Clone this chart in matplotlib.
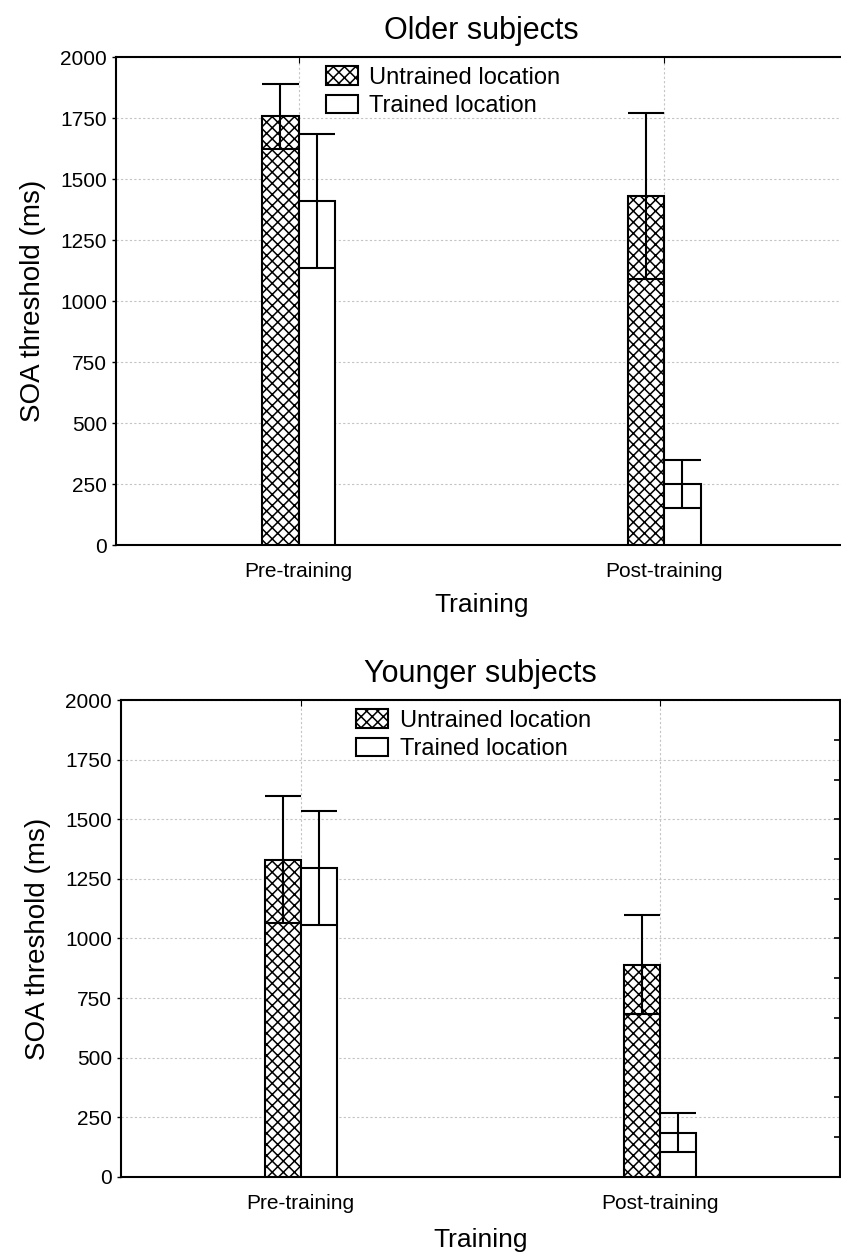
import matplotlib
matplotlib.use("Agg")
import matplotlib.pyplot as plt
import numpy as np

plt.rcParams['font.family'] = ['Liberation Sans', 'DejaVu Sans']
plt.rcParams['hatch.linewidth'] = 1.1

# Datos
categorias = ["Pre-training", "Post-training"]
series = ["Untrained location", "Trained location"]

mayores_media = {"Untrained location": [1758, 1430], "Trained location": [1410, 250]}
mayores_err = {"Untrained location": [133, 340], "Trained location": [275, 100]}

jovenes_media = {"Untrained location": [1330, 890], "Trained location": [1295, 185]}
jovenes_err = {"Untrained location": [267, 208], "Trained location": [240, 82]}

yticks = [0, 250, 500, 750, 1000, 1250, 1500, 1750, 2000]

ancho = 0.1
desplaz = {"Untrained location": -0.05, "Trained location": 0.05}
tramas = {"Untrained location": "xxx", "Trained location": None}


def panel(ax, titulo, medias, errores, leg_anchor, xlabelpad, right_ticks=False):
    x = np.arange(len(categorias))
    for s in series:
        pos = x + desplaz[s]
        m = np.array(medias[s])
        e = np.array(errores[s])
        ax.bar(pos, m, width=ancho, color="white", edgecolor="black",
               hatch=tramas[s], linewidth=1.5, label=s, zorder=3)
        ax.vlines(pos, m - e, m + e, color="black", linewidth=1.5, zorder=4)
        ax.hlines(m + e, pos - ancho / 2, pos + ancho / 2, color="black", linewidth=1.5, zorder=4)
        ax.hlines(m - e, pos - ancho / 2, pos + ancho / 2, color="black", linewidth=1.5, zorder=4)

    ax.set_xlim(-0.5, 1.5)
    ax.set_ylim(0, 2000)
    ax.set_yticks(yticks)
    ax.set_xticks(x)
    ax.set_xticklabels(categorias)
    ax.tick_params(axis='x', bottom=False, top=True, direction='in', length=4,
                   labelsize=15, pad=12)
    ax.tick_params(axis='y', direction='out', length=3, labelsize=15, width=1)
    ax.grid(True, linestyle=(0, (2, 2)), color="#c4c4c4", linewidth=0.8, zorder=0)
    ax.set_axisbelow(True)
    for sp in ax.spines.values():
        sp.set_linewidth(1.5)
    ax.set_title(titulo, fontsize=22, pad=13)
    ax.set_xlabel("Training", fontsize=19, labelpad=xlabelpad)
    ax.set_ylabel("SOA threshold (ms)", fontsize=20, labelpad=10)
    ax.legend(loc="upper left", bbox_to_anchor=leg_anchor, frameon=False,
              fontsize=17, handlelength=1.35, handleheight=0.8,
              labelspacing=0.25, handletextpad=0.5, borderaxespad=0)
    if right_ticks:
        ax2 = ax.twinx()
        ax2.set_ylim(0, 2000)
        ax2.set_yticks(np.linspace(0, 2000, 13))
        ax2.tick_params(axis='y', direction='in', length=4, labelright=False, width=1.2)
        for sp in ax2.spines.values():
            sp.set_visible(False)


fig = plt.figure(figsize=(8.41, 12.53), dpi=100)
ax1 = fig.add_axes([0.138, 0.5650, 0.869, 0.3895])
ax2 = fig.add_axes([0.1439, 0.0607, 0.855, 0.3806])

panel(ax1, "Older subjects", mayores_media, mayores_err, (0.274, 1.0), 9)
panel(ax2, "Younger subjects", jovenes_media, jovenes_err, (0.314, 1.0), 11, right_ticks=True)

fig.savefig("out.png", dpi=100)
